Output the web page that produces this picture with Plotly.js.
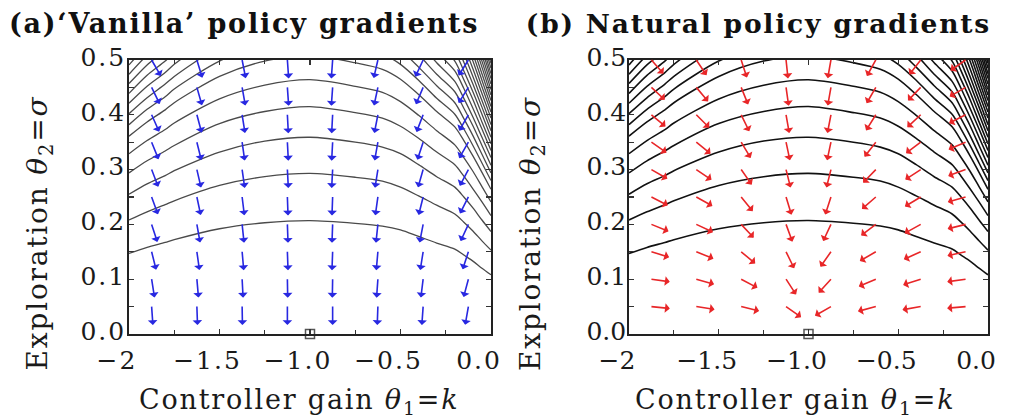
<!DOCTYPE html>
<html><head><meta charset="utf-8">
<script src="https://cdn.plot.ly/plotly-3.0.1.min.js"></script>
<style>
html,body{margin:0;padding:0;background:#fff}
#chart{width:1017px;height:418px}
#chart .xtick text,#chart .ytick text{letter-spacing:2px}
#chart .annotation-text{letter-spacing:1.8px}
</style>
</head><body><div id="chart"></div>
<script>
// ---- data ----
const gainGrid = [-1.875, -1.625, -1.375, -1.125, -0.875, -0.625, -0.375, -0.125];
const explorationGrid = [0.5, 0.45, 0.4, 0.35, 0.3, 0.25, 0.2, 0.15, 0.1, 0.05];
// arrow directions in degrees (0 = straight down, + turns toward larger gain)
const vanillaAngles = [
  [30, 17, 11, 4, -4, -13, -25, -32],
  [26, 16, 10, 4, -4, -12, -23, -32],
  [24, 15, 9, 3, -3, -11, -21, -30],
  [22, 14, 8, 3, -3, -10, -18, -30],
  [21, 13, 8, 3, -3, -9, -16, -28],
  [20, 12, 7, 2, -2, -8, -14, -27],
  [18, 10, 6, 2, -2, -6, -11, -25],
  [14, 8, 5, 2, -2, -5, -9, -18],
  [9, 5, 3, 1, -1, -4, -7, -15],
  [4, 2, 1, 0, 0, -2, -4, -10]
];
const naturalAngles = [
  [41, 34, 18, 6, -10, -29, -38, -55],
  [47, 40, 22, 8, -10, -30, -44, -60],
  [50, 45, 26, 10, -11, -32, -47, -63],
  [55, 51, 31, 12, -12, -38, -53, -67],
  [60, 56, 35, 14, -14, -44, -57, -70],
  [63, 61, 39, 17, -18, -49, -59, -74],
  [68, 65, 43, 20, -25, -53, -61, -76],
  [73, 68, 50, 26, -35, -60, -66, -78],
  [82, 74, 62, 33, -42, -67, -72, -82],
  [84, 81, 76, 55, -60, -75, -80, -85]
];
// contour lines of the expected return: exploration value of each line at these gains
const contourGain = [-2, -1.9, -1.8, -1.75, -1.5, -1.25, -1, -0.75, -0.6, -0.5, -0.4, -0.3, -0.2, -0.15, -0.1, -0.05, 0];
const contourExploration = [
  [0.147,0.158,0.167,0.172,0.192,0.203,0.207,0.202,0.197,0.190,0.178,0.166,0.155,0.144,0.133,0.120,0.108],
  [0.208,0.223,0.236,0.243,0.271,0.287,0.293,0.286,0.279,0.268,0.252,0.235,0.219,0.204,0.188,0.170,0.153],
  [0.255,0.274,0.289,0.298,0.332,0.352,0.359,0.350,0.341,0.329,0.309,0.287,0.268,0.250,0.230,0.208,0.187],
  [0.294,0.316,0.334,0.344,0.384,0.406,0.415,0.404,0.394,0.379,0.357,0.332,0.309,0.288,0.265,0.241,0.216],
  [0.329,0.353,0.373,0.385,0.429,0.454,0.464,0.452,0.441,0.424,0.399,0.371,0.345,0.322,0.297,0.269,0.241],
  [0.361,0.387,0.409,0.422,0.470,0.498,0.508,0.495,0.483,0.465,0.437,0.406,0.378,0.353,0.325,0.295,0.264],
  [0.382,0.410,0.433,0.447,0.498,0.527,0.538,0.525,0.511,0.492,0.463,0.430,0.401,0.374,0.344,0.312,0.280],
  [0.402,0.431,0.456,0.470,0.524,0.555,0.566,0.552,0.538,0.518,0.487,0.453,0.422,0.393,0.362,0.328,0.294],
  [0.421,0.452,0.477,0.492,0.549,0.581,0.593,0.578,0.563,0.543,0.510,0.474,0.442,0.412,0.380,0.344,0.308],
  [0.439,0.472,0.498,0.514,0.573,0.607,0.619,0.604,0.588,0.566,0.532,0.495,0.461,0.430,0.396,0.359,0.322],
  [0.457,0.491,0.518,0.535,0.596,0.631,0.644,0.628,0.612,0.589,0.554,0.515,0.480,0.448,0.412,0.374,0.335],
  [0.474,0.509,0.538,0.554,0.618,0.655,0.668,0.651,0.635,0.611,0.574,0.534,0.498,0.464,0.428,0.387,0.347],
  [0.491,0.527,0.556,0.574,0.639,0.677,0.691,0.674,0.656,0.632,0.594,0.553,0.515,0.480,0.442,0.401,0.359],
  [null,null,null,null,null,null,null,null,null,0.652,0.613,0.570,0.531,0.496,0.456,0.414,0.371],
  [null,null,null,null,null,null,null,null,null,null,0.632,0.588,0.548,0.511,0.470,0.426,0.382],
  [null,null,null,null,null,null,null,null,null,null,0.651,0.606,0.564,0.526,0.484,0.439,0.394],
  [null,null,null,null,null,null,null,null,null,null,null,0.622,0.580,0.541,0.498,0.451,0.405],
  [null,null,null,null,null,null,null,null,null,null,null,0.639,0.595,0.555,0.511,0.463,0.415],
  [null,null,null,null,null,null,null,null,null,null,null,0.655,0.610,0.569,0.524,0.475,0.426],
  [null,null,null,null,null,null,null,null,null,null,null,null,0.625,0.583,0.537,0.487,0.436],
  [null,null,null,null,null,null,null,null,null,null,null,null,0.639,0.596,0.549,0.498,0.446],
  [null,null,null,null,null,null,null,null,null,null,null,null,0.653,0.610,0.561,0.509,0.456],
  [null,null,null,null,null,null,null,null,null,null,null,null,0.668,0.623,0.573,0.520,0.466],
  [null,null,null,null,null,null,null,null,null,null,null,null,0.681,0.635,0.585,0.530,0.475],
  [null,null,null,null,null,null,null,null,null,null,null,null,0.694,0.648,0.596,0.541,0.485],
  [null,null,null,null,null,null,null,null,null,null,null,null,0.708,0.660,0.608,0.551,0.494]
];
const optimumGain = [-1.0];
const optimumExploration = [0.0];
const xTickVals = [-2, -1.5, -1, -0.5, 0];
const xTickText = ['\u22122', '\u22121.5', '\u22121.0', '\u22120.5', '0.0'];
const xMinorTicks = [-1.75, -1.25, -0.75, -0.25];

// ---- styles ----
const SERIF = 'DejaVu Serif';
const BLUE = 'rgb(40,40,225)';
const RED = 'rgb(232,38,40)';
const ARROW_LEN = 19;

const traces = [];
function addContours(xa, ya, color, width) {
  contourExploration.forEach(function (row) {
    traces.push({
      x: contourGain, y: row, xaxis: xa, yaxis: ya, type: 'scatter', mode: 'lines',
      line: {color: color, width: width, shape: 'spline', smoothing: 0.8},
      hoverinfo: 'skip', showlegend: false
    });
  });
  traces.push({
    x: optimumGain, y: optimumExploration, xaxis: xa, yaxis: ya, type: 'scatter', mode: 'markers',
    marker: {symbol: 'square-open', size: 9, color: '#555', line: {width: 1.5, color: '#555'}},
    cliponaxis: false, showlegend: false, hoverinfo: 'skip'
  });
}
addContours('x', 'y', '#4a4a4a', 1.3);
addContours('x2', 'y2', '#111', 1.6);

const annotations = [];
function addArrows(xr, yr, angles, color) {
  explorationGrid.forEach(function (s, j) {
    gainGrid.forEach(function (k, i) {
      const a = angles[j][i] * Math.PI / 180;
      annotations.push({
        xref: xr, yref: yr, x: k, y: s, axref: 'pixel', ayref: 'pixel',
        ax: ARROW_LEN * Math.sin(a), ay: ARROW_LEN * Math.cos(a),
        text: '', showarrow: true, arrowside: 'start', arrowhead: 2, arrowsize: 0.8,
        arrowwidth: 1.6, arrowcolor: color, standoff: 0, startstandoff: 0,
        borderpad: 0, font: {size: 1}
      });
    });
  });
}
addArrows('x', 'y', vanillaAngles, BLUE);
addArrows('x2', 'y2', naturalAngles, RED);

function txt(text, x, y, opts) {
  return Object.assign({xref: 'paper', yref: 'paper', x: x, y: y, text: text, showarrow: false,
    xanchor: 'center', yanchor: 'middle',
    font: {family: SERIF, size: 27, color: '#1a1a1a'}}, opts || {});
}
annotations.push(txt('<b>(a)\u2018Vanilla\u2019 policy gradients</b>', 244 / 1017, 0.9435,
  {font: {family: SERIF, size: 27, color: '#111'}}));
annotations.push(txt('<b>(b) Natural policy gradients</b>', 758.5 / 1017, 0.9435,
  {font: {family: SERIF, size: 26.5, color: '#111'}}));
const yTitle = 'Exploration <i>\u03b8</i><sub>2</sub>=<i>\u03c3</i>';
const xTitle = 'Controller gain <i>\u03b8</i><sub>1</sub>=<i>k</i>';
const yTitleFont = {family: SERIF, size: 28, color: '#1a1a1a'};
annotations.push(txt(yTitle, 40 / 1017, 0.4426, {textangle: -90, font: yTitleFont}));
annotations.push(txt(yTitle, 532.5 / 1017, 0.4426, {textangle: -90, font: yTitleFont}));
annotations.push(txt(xTitle, 299 / 1017, 0.0383));
annotations.push(txt(xTitle, 795 / 1017, 0.0383));

function xAxis(domain, anchor) {
  return {domain: domain, anchor: anchor, range: [-2, 0], tickvals: xTickVals, ticktext: xTickText,
    ticks: 'inside', ticklen: 5, tickwidth: 1.2, tickcolor: '#333', showline: true, linewidth: 1.8,
    linecolor: '#222', mirror: 'ticks', showgrid: false, zeroline: false, ticklabelshift: -12,
    ticklabelstandoff: 3,
    tickfont: {family: SERIF, size: 25, color: '#1a1a1a'},
    minor: {tickvals: xMinorTicks, ticks: 'inside', ticklen: 4, tickcolor: '#333', showgrid: false},
    fixedrange: true};
}
function yAxis(anchor) {
  return {domain: [0.201, 0.8565], anchor: anchor, range: [0, 0.5], tick0: 0, dtick: 0.1, tickformat: '.1f',
    ticks: 'inside', ticklen: 5, tickwidth: 1.2, tickcolor: '#333', showline: true, linewidth: 1.8,
    linecolor: '#222', mirror: 'ticks', showgrid: false, zeroline: false,
    ticklabelshift: -3, ticklabelstandoff: -4,
    tickfont: {family: SERIF, size: 25, color: '#1a1a1a'},
    minor: {dtick: 0.05, ticks: 'inside', ticklen: 5, tickcolor: '#333', showgrid: false},
    fixedrange: true};
}

const layout = {
  width: 1017, height: 418, margin: {l: 0, r: 0, t: 0, b: 0},
  paper_bgcolor: '#fff', plot_bgcolor: '#fff', showlegend: false,
  xaxis: xAxis([129 / 1017, 491 / 1017], 'y'),
  yaxis: yAxis('x'),
  xaxis2: xAxis([629 / 1017, 988 / 1017], 'y2'),
  yaxis2: yAxis('x2'),
  annotations: annotations
};
Plotly.newPlot('chart', traces, layout, {staticPlot: true, displayModeBar: false});
</script></body></html>
